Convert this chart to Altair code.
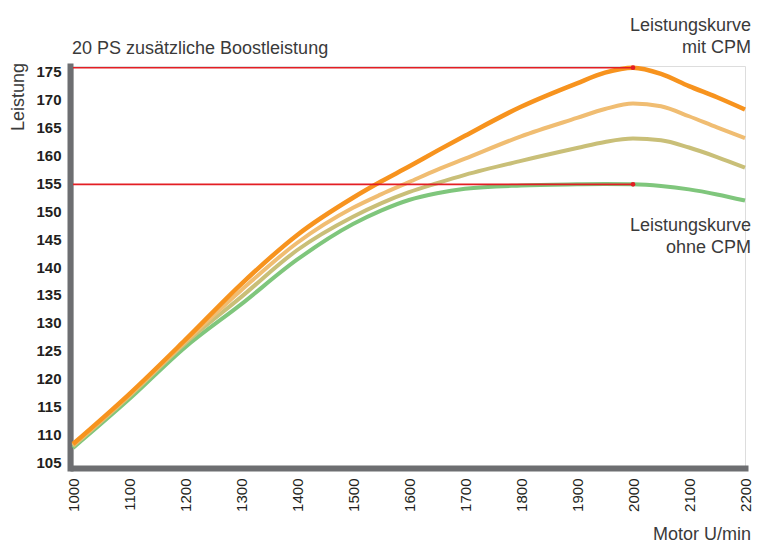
import altair as alt
import pandas as pd

# ---- data ----
rpm = [1000, 1100, 1200, 1300, 1400, 1500, 1550, 1600, 1650, 1700, 1800, 1900, 1950, 2000, 2050, 2100, 2150, 2200]
mit_cpm = [108.3, 117.2, 126.9, 136.9, 145.7, 152.4, 155.3, 158.0, 160.8, 163.5, 168.7, 172.9, 174.8, 175.7, 174.6, 172.4, 170.4, 168.2]
stufe_2 = [108.1, 117.0, 126.6, 135.8, 144.3, 150.6, 153.0, 155.2, 157.4, 159.4, 163.4, 166.7, 168.3, 169.3, 168.8, 167.0, 165.0, 163.1]
stufe_1 = [107.9, 116.8, 126.3, 134.6, 143.0, 149.0, 151.4, 153.4, 155.0, 156.5, 159.0, 161.3, 162.4, 163.0, 162.7, 161.4, 159.7, 157.8]
ohne_cpm = [107.6, 116.3, 125.6, 133.3, 141.3, 147.7, 150.1, 152.0, 153.2, 154.0, 154.6, 154.8, 154.85, 154.8, 154.5, 153.9, 153.0, 151.9]

ref_levels = [175.7, 154.8]
ref_start = 1000
ref_end = 2000

x_ticks = [1000, 1100, 1200, 1300, 1400, 1500, 1600, 1700, 1800, 1900, 2000, 2100, 2200]
y_ticks = [105, 110, 115, 120, 125, 130, 135, 140, 145, 150, 155, 160, 165, 170, 175]

title_text = "20 PS zusätzliche Boostleistung"
y_title = "Leistung"
x_title = "Motor U/min"
label_top = ["Leistungskurve", "mit CPM"]
label_bottom = ["Leistungskurve", "ohne CPM"]

# ---- styling ----
FONT = "Liberation Sans"
AXIS_GREY = "#6d6e71"
TEXT = "#3a3a3a"
RED = "#e31e24"

x_scale = alt.Scale(domain=[1000, 2200], nice=False, zero=False)
y_scale = alt.Scale(domain=[104, 176], nice=False, zero=False)

x_axis = alt.Axis(values=x_ticks, format="d", labelAngle=270, labelFontSize=15, labelColor="#231f20",
                  labelFont=FONT, labelPadding=10, ticks=False, tickSize=0, grid=False,
                  domainColor=AXIS_GREY, domainWidth=6, domainCap="square", title=None,
                  labelOverlap=False, labelFlush=False)
y_axis = alt.Axis(values=y_ticks, format="d", labelFontSize=15, labelFontWeight="bold", labelColor="#231f20",
                  labelFont=FONT, labelPadding=9, ticks=False, tickSize=0, grid=False,
                  domainColor=AXIS_GREY, domainWidth=6, domainCap="square", title=None,
                  offset=3, labelOverlap=False, labelFlush=False)


def curve(values, color, width):
    df = pd.DataFrame({"rpm": rpm, "ps": values})
    return alt.Chart(df).mark_line(color=color, strokeWidth=width, interpolate="monotone").encode(
        x=alt.X("rpm:Q", scale=x_scale, axis=x_axis),
        y=alt.Y("ps:Q", scale=y_scale, axis=y_axis),
    )


layers = [
    curve(ohne_cpm, "#7fc67c", 4),
    curve(stufe_1, "#c9bf78", 4),
    curve(stufe_2, "#f0bd72", 4),
    curve(mit_cpm, "#f7931e", 4.5),
]

ref_df = pd.DataFrame({"start": [ref_start] * len(ref_levels), "end": [ref_end] * len(ref_levels),
                       "level": ref_levels})
ref_rules = alt.Chart(ref_df).mark_rule(color=RED, strokeWidth=1.6).encode(
    x=alt.X("start:Q", scale=x_scale, axis=x_axis),
    x2="end:Q",
    y=alt.Y("level:Q", scale=y_scale, axis=y_axis),
)
ref_dots = alt.Chart(ref_df).mark_point(color=RED, filled=True, opacity=1, size=22).encode(
    x=alt.X("end:Q", scale=x_scale, axis=x_axis),
    y=alt.Y("level:Q", scale=y_scale, axis=y_axis),
)
layers += [ref_rules, ref_dots]


def text_layer(text, x, y, align="left", angle=0, size=18, baseline="alphabetic"):
    df = pd.DataFrame({"t": [text]})
    return alt.Chart(df).mark_text(align=align, baseline=baseline, fontSize=size, font=FONT,
                                   color=TEXT, angle=angle).encode(
        x=alt.value(x), y=alt.value(y), text="t:N"
    )


layers += [
    text_layer(title_text, -1, -12),
    text_layer(label_top[0], 678, -35, align="right"),
    text_layer(label_top[1], 678, -13, align="right"),
    text_layer(label_bottom[0], 678, 165, align="right"),
    text_layer(label_bottom[1], 678, 187, align="right"),
    text_layer(x_title, 678, 474, align="right"),
    text_layer(y_title, -49, 31, align="center", angle=270, size=18),
]

chart = alt.layer(*layers).properties(
    width=672,
    height=402,
    autosize=alt.AutoSizeParams(type="none"),
    padding={"left": 65, "top": 58, "right": 7, "bottom": 77},
).configure_view(stroke=None).configure(background="white")

chart.save("out.html", embed_options={"renderer": "svg", "actions": False})
